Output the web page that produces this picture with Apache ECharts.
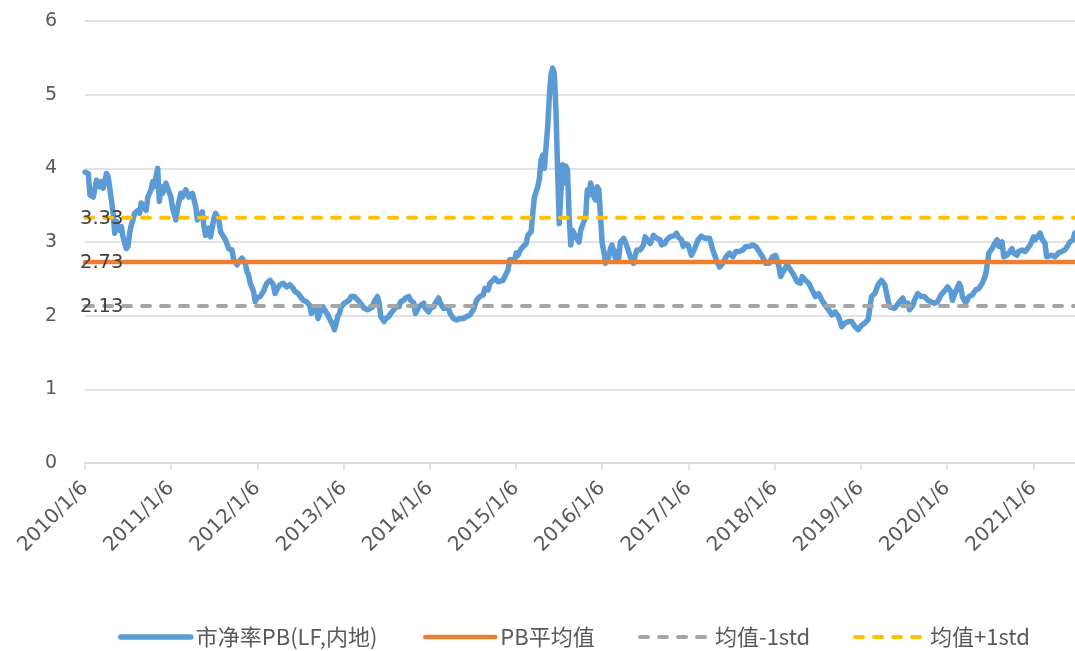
<!DOCTYPE html>
<html>
<head>
<meta charset="utf-8">
<script src="https://cdn.jsdelivr.net/npm/echarts@6/dist/echarts.min.js"></script>
<style>
  html, body { margin: 0; padding: 0; background: #fff; }
  #chart { width: 1075px; height: 651px; }
</style>
</head>
<body>
<div id="chart"></div>
<script>
// Weekly P/B (LF, mainland) readings: offset in weeks from the first close, and the value.
const firstWeek = '2010/1/6';
const weekNo = [
  0, 2, 3, 5, 7, 9, 10, 11, 13, 14, 16, 17, 18, 19, 21, 22, 23, 25, 26, 27, 28, 29, 30, 32, 33, 34, 36, 37, 38, 40,
  41, 42, 43, 44, 45, 46, 47, 49, 50, 52, 53, 55, 56, 58, 59, 61, 63, 65, 67, 68, 69, 71, 72, 73, 75, 76, 78, 79, 81, 82,
  83, 85, 86, 87, 89, 90, 92, 93, 95, 97, 98, 99, 100, 102, 103, 104, 106, 107, 108, 110, 111, 112, 114, 115, 116, 118, 120, 122, 124, 126,
  127, 129, 131, 132, 134, 136, 137, 138, 140, 141, 142, 144, 145, 147, 148, 150, 151, 152, 153, 154, 155, 157, 158, 160, 161, 163, 164, 166, 167, 169,
  171, 172, 174, 175, 177, 178, 179, 181, 182, 184, 185, 187, 188, 190, 191, 193, 194, 196, 197, 199, 200, 202, 203, 205, 206, 208, 209, 211, 212, 214,
  215, 217, 218, 220, 221, 223, 225, 227, 229, 231, 233, 235, 236, 237, 239, 241, 242, 244, 245, 247, 248, 250, 251, 253, 254, 256, 257, 258, 260, 261,
  262, 264, 265, 267, 268, 270, 271, 272, 274, 275, 276, 277, 278, 279, 280, 281, 282, 283, 284, 285, 286, 287, 288, 289, 290, 291, 292, 293, 294, 295,
  296, 297, 299, 300, 302, 303, 304, 305, 306, 308, 309, 310, 311, 313, 314, 315, 317, 318, 319, 321, 322, 323, 324, 326, 327, 328, 329, 330, 332, 333,
  334, 336, 338, 339, 340, 342, 343, 344, 346, 348, 349, 351, 352, 354, 355, 357, 358, 359, 361, 362, 363, 365, 367, 369, 371, 373, 375, 378, 380, 382,
  384, 386, 388, 390, 392, 394, 396, 398, 400, 402, 404, 406, 408, 410, 412, 414, 416, 418, 420, 421, 423, 425, 427, 429, 431, 433, 434, 436, 438, 440,
  442, 444, 446, 448, 450, 452, 454, 456, 458, 460, 462, 464, 466, 468, 470, 472, 474, 476, 478, 480, 482, 484, 486, 487, 490, 491, 493, 495, 496, 498,
  499, 501, 502, 504, 506, 508, 510, 512, 514, 516, 518, 520, 522, 524, 525, 527, 529, 530, 531, 533, 535, 537, 539, 541, 543, 545, 546, 547, 549, 550,
  552, 553, 555, 556, 558, 559, 561, 562, 564, 565, 567, 569, 570, 572, 574, 575, 576, 578, 579, 581, 582, 583, 585, 587, 589, 591, 593, 595, 596, 598,
  599
];
const pbValues = [
  3.95, 3.93, 3.64, 3.61, 3.84, 3.75, 3.82, 3.73, 3.93, 3.89, 3.57, 3.39, 3.12, 3.28, 3.16, 3.21, 3.07, 2.91, 2.94, 3.12, 3.23, 3.30, 3.39, 3.43, 3.39, 3.53, 3.46, 3.43, 3.61, 3.71,
  3.82, 3.75, 3.89, 4.00, 3.55, 3.75, 3.66, 3.80, 3.73, 3.61, 3.46, 3.30, 3.46, 3.66, 3.61, 3.71, 3.61, 3.66, 3.48, 3.30, 3.30, 3.41, 3.21, 3.09, 3.19, 3.07, 3.32, 3.39, 3.30, 3.14,
  3.12, 3.03, 3.05, 2.91, 2.89, 2.76, 2.69, 2.73, 2.78, 2.71, 2.60, 2.55, 2.44, 2.33, 2.19, 2.24, 2.26, 2.24, 2.33, 2.44, 2.46, 2.48, 2.42, 2.30, 2.35, 2.42, 2.44, 2.39, 2.42, 2.37,
  2.33, 2.30, 2.24, 2.21, 2.19, 2.14, 2.03, 2.10, 2.12, 1.96, 2.03, 2.12, 2.08, 2.01, 1.96, 1.87, 1.81, 1.90, 1.99, 2.03, 2.12, 2.17, 2.19, 2.21, 2.26, 2.26, 2.24, 2.19, 2.17, 2.10,
  2.08, 2.10, 2.12, 2.19, 2.26, 2.17, 1.99, 1.92, 1.96, 1.99, 2.03, 2.08, 2.12, 2.12, 2.19, 2.21, 2.24, 2.26, 2.21, 2.17, 2.03, 2.12, 2.14, 2.17, 2.10, 2.05, 2.10, 2.12, 2.17, 2.24,
  2.17, 2.10, 2.08, 2.10, 2.03, 1.96, 1.94, 1.96, 1.96, 1.99, 2.01, 2.08, 2.14, 2.21, 2.26, 2.28, 2.37, 2.35, 2.44, 2.48, 2.51, 2.46, 2.44, 2.48, 2.48, 2.62, 2.76, 2.78, 2.76, 2.85,
  2.82, 2.91, 2.89, 2.98, 3.09, 3.14, 3.39, 3.61, 3.75, 3.86, 4.11, 4.18, 4.00, 4.29, 4.56, 4.97, 5.27, 5.36, 5.29, 4.80, 4.00, 3.25, 3.66, 4.05, 3.80, 4.03, 3.98, 3.34, 2.96, 3.16,
  3.14, 3.07, 3.00, 3.16, 3.28, 3.34, 3.71, 3.64, 3.80, 3.61, 3.57, 3.75, 3.71, 2.98, 2.87, 2.71, 2.80, 2.91, 2.96, 2.78, 2.87, 2.78, 3.00, 3.05, 3.07, 2.94, 2.87, 2.80, 2.71, 2.82,
  2.89, 2.89, 2.96, 3.07, 3.09, 2.98, 3.00, 3.09, 3.05, 3.03, 2.96, 2.98, 3.03, 3.07, 3.05, 3.09, 3.12, 3.07, 3.03, 2.94, 2.98, 2.96, 2.82, 2.91, 3.03, 3.08, 3.05, 3.05, 2.89, 2.76,
  2.66, 2.71, 2.80, 2.85, 2.80, 2.87, 2.87, 2.89, 2.94, 2.94, 2.96, 2.94, 2.87, 2.80, 2.71, 2.71, 2.80, 2.82, 2.66, 2.53, 2.62, 2.69, 2.62, 2.55, 2.46, 2.44, 2.53, 2.48, 2.44, 2.35,
  2.26, 2.30, 2.21, 2.14, 2.08, 2.01, 2.05, 1.99, 1.85, 1.90, 1.92, 1.92, 1.85, 1.81, 1.87, 1.90, 1.95, 2.26, 2.30, 2.42, 2.48, 2.42, 2.21, 2.12, 2.10, 2.12, 2.19, 2.24, 2.14, 2.17,
  2.08, 2.14, 2.21, 2.30, 2.26, 2.26, 2.21, 2.19, 2.17, 2.19, 2.28, 2.33, 2.39, 2.33, 2.21, 2.33, 2.44, 2.39, 2.26, 2.17, 2.26, 2.28, 2.35, 2.37, 2.44, 2.55, 2.69, 2.85, 2.91, 2.96,
  3.03, 2.94, 3.00, 2.80, 2.82, 2.85, 2.91, 2.85, 2.82, 2.87, 2.89, 2.87, 2.89, 2.96, 3.07, 3.03, 3.05, 3.12, 3.05, 2.98, 2.80, 2.80, 2.82, 2.80, 2.85, 2.87, 2.89, 2.96, 3.00, 3.03,
  3.12
];

// Reference levels: mean, mean - 1 std, mean + 1 std
const seriesNames = ['市净率PB(LF,内地)', 'PB平均值', '均值-1std', '均值+1std'];
const levelValues = [2.73, 2.13, 3.33];

// Axis
const yearTicks = ['2010/1/6', '2011/1/6', '2012/1/6', '2013/1/6', '2014/1/6', '2015/1/6',
                   '2016/1/6', '2017/1/6', '2018/1/6', '2019/1/6', '2020/1/6', '2021/1/6'];
const axisEnd = '2021/7/1';

function parseDate(s) {
  const p = s.split('/').map(Number);
  return new Date(p[0], p[1] - 1, p[2]).getTime();
}
function fmtDate(v) {
  const d = new Date(v);
  return d.getFullYear() + '/' + (d.getMonth() + 1) + '/' + d.getDate();
}

const DAY = 86400000;
const t0 = parseDate(firstWeek);
const pbData = weekNo.map((w, i) => [t0 + w * 7 * DAY, pbValues[i]]);
const tFirst = pbData[0][0];
const tLast = pbData[pbData.length - 1][0];
const tickValues = yearTicks.map(parseDate);

const numFont = 'DejaVu Sans';
const cjkFont = 'Noto Sans CJK SC';

const seriesColors = ['#5B9BD5', '#ED7D31', '#A5A5A5', '#FFC000'];
const seriesWidths = [5.5, 4.5, 4, 4];
const dashPattern = [8, 11];

function levelSeries(i) {
  const k = i + 1;
  return {
    name: seriesNames[k],
    type: 'line',
    symbol: 'circle',
    symbolSize: 0,
    silent: true,
    data: [{ value: [tFirst, levelValues[i]], label: { show: true } }, [tLast, levelValues[i]]],
    lineStyle: {
      color: seriesColors[k],
      width: seriesWidths[k],
      type: k === 1 ? 'solid' : dashPattern,
      cap: 'round'
    },
    itemStyle: { color: seriesColors[k] },
    label: {
      show: false,
      position: 'right',
      distance: 0,
      offset: [-5, 1],
      formatter: p => p.value[1].toFixed(2),
      color: '#404040',
      fontSize: 19.5,
      fontFamily: numFont
    },
    z: 3 + i
  };
}

const legendLefts = [113, 418, 633, 848];

const option = {
  animation: false,
  backgroundColor: '#fff',
  grid: { left: 85, right: 0, top: 21, bottom: 188 },
  legend: seriesNames.map((n, i) => ({
    data: [n],
    left: legendLefts[i],
    top: 621,
    itemWidth: 70,
    itemHeight: 14,
    itemGap: 0,
    itemStyle: { opacity: 0 },
    lineStyle: { width: seriesWidths[i], cap: 'round' },
    textStyle: { fontSize: 22, color: '#595959', fontFamily: cjkFont },
    selectedMode: false
  })),
  xAxis: {
    type: 'value',
    min: t0,
    max: parseDate(axisEnd),
    axisLine: { show: true, lineStyle: { color: '#d9d9d9', width: 1.5 } },
    axisTick: { show: true, length: 7, customValues: tickValues, lineStyle: { color: '#d9d9d9', width: 1.5 } },
    axisLabel: {
      customValues: tickValues,
      formatter: v => fmtDate(v),
      rotate: 45,
      margin: 22,
      fontSize: 20,
      color: '#595959',
      fontFamily: numFont
    },
    splitLine: { show: false }
  },
  yAxis: {
    type: 'value',
    min: 0,
    max: 6,
    interval: 1,
    axisLine: { show: false },
    axisTick: { show: false },
    axisLabel: { fontSize: 19, color: '#595959', fontFamily: numFont, margin: 28 },
    splitLine: { lineStyle: { color: '#d9d9d9', width: 1.5 } }
  },
  series: [
    {
      name: seriesNames[0],
      type: 'line',
      symbol: 'none',
      data: pbData,
      lineStyle: { color: seriesColors[0], width: seriesWidths[0], join: 'round', cap: 'round' },
      itemStyle: { color: seriesColors[0] },
      z: 2
    },
    levelSeries(0),
    levelSeries(1),
    levelSeries(2)
  ]
};

const chart = echarts.init(document.getElementById('chart'), null, { renderer: 'canvas' });
chart.setOption(option);
</script>
</body>
</html>
